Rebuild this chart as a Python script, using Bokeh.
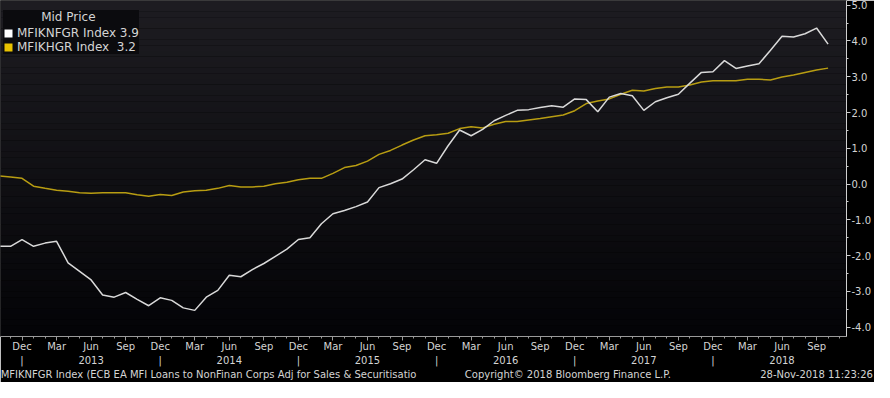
from bokeh.plotting import figure
from bokeh.models import (FixedTicker, LinearAxis, Legend, LegendItem,
                          Range1d, PrintfTickFormatter)
from bokeh.embed import file_html
from bokeh.resources import INLINE
import numpy as np

# ---- data (monthly, Oct 2012 .. Oct 2018) ----
start_year, start_month = 2012, 10
mfiknfgr = [
    -1.74, -1.74, -1.55,
    -1.74, -1.65, -1.60, -2.20, -2.44, -2.68, -3.10, -3.16, -3.03, -3.22, -3.40, -3.18,
    -3.25, -3.46, -3.53, -3.16, -2.97, -2.55, -2.59, -2.39, -2.22, -2.02, -1.82, -1.55,
    -1.50, -1.11, -0.83, -0.74, -0.63, -0.50, -0.10, 0.01, 0.14, 0.40, 0.68, 0.58,
    1.07, 1.51, 1.35, 1.53, 1.77, 1.92, 2.06, 2.08, 2.14, 2.19, 2.15, 2.38,
    2.36, 2.02, 2.43, 2.53, 2.47, 2.06, 2.30, 2.41, 2.51, 2.82, 3.12, 3.14,
    3.45, 3.23, 3.30, 3.36, 3.74, 4.13, 4.11, 4.20, 4.36, 3.91,
]
mfikhgr = [
    0.23, 0.20, 0.16,
    -0.06, -0.12, -0.17, -0.20, -0.24, -0.26, -0.24, -0.24, -0.24, -0.30, -0.34, -0.29,
    -0.32, -0.22, -0.19, -0.17, -0.12, -0.04, -0.08, -0.08, -0.06, 0.01, 0.05, 0.12,
    0.16, 0.16, 0.30, 0.46, 0.52, 0.64, 0.83, 0.94, 1.09, 1.23, 1.35, 1.38,
    1.42, 1.55, 1.60, 1.57, 1.67, 1.75, 1.75, 1.79, 1.83, 1.88, 1.93, 2.05,
    2.25, 2.32, 2.38, 2.51, 2.62, 2.60, 2.67, 2.71, 2.71, 2.77, 2.85, 2.89,
    2.89, 2.89, 2.93, 2.93, 2.91, 2.99, 3.05, 3.12, 3.19, 3.24,
]
legend_labels = ["MFIKNFGR Index 3.9", "MFIKHGR Index  3.2"]
legend_title = "Mid Price"
y_ticks = [-4, -3, -2, -1, 0, 1, 2, 3, 4, 5]
footer_texts = ["MFIKNFGR Index (ECB EA MFI Loans to NonFinan Corps Adj for Sales & Securitisatio",
                "Copyright\u00a9 2018 Bloomberg Finance L.P.",
                "28-Nov-2018 11:23:26"]
month_names = ["Jan", "Feb", "Mar", "Apr", "May", "Jun", "Jul", "Aug", "Sep", "Oct", "Nov", "Dec"]

FONT = "DejaVu Sans"
TXT = "#d4d4d4"

n_total = 75
xs = list(range(len(mfiknfgr)))

def month_of(i):
    return (start_month - 1 + i) % 12 + 1

def year_of(i):
    return start_year + (start_month - 1 + i) // 12

x_start, x_end = 0.13, 73.6
y_start, y_end = -4.26, 5.13

p = figure(width=874, height=382, output_backend="svg", toolbar_location=None,
           x_range=Range1d(x_start, x_end), y_range=Range1d(y_start, y_end),
           min_border_left=0, min_border_top=0, min_border_right=0, min_border_bottom=0,
           background_fill_color="#000000", border_fill_color="#000000",
           outline_line_color="#444444", outline_line_width=1)
p.xaxis.visible = False
p.yaxis.visible = False
p.xgrid.visible = False
p.ygrid.visible = False

# background gradient bands
nb = 60
edges = np.linspace(y_start, y_end, nb + 1)
c_bot = np.array([4, 4, 7])
c_top = np.array([30, 29, 34])
cols = []
for k in range(nb):
    t = (k + 0.5) / nb
    c = (c_bot + (c_top - c_bot) * t).astype(int)
    cols.append("#%02x%02x%02x" % tuple(c))
p.quad(left=x_start - 1, right=x_end + 1, bottom=edges[:-1], top=edges[1:],
       fill_color=cols, line_color=None)

# series
p.line(xs, mfikhgr, line_color="#b89d12", line_width=1.5)
p.line(xs, mfiknfgr, line_color="#d9d9d9", line_width=1.5)

# legend swatches: zero-area quads (invisible on the chart, filled squares in the legend)
lx = xs[-1]
sq1 = p.quad(left=[lx], right=[lx], bottom=[mfiknfgr[-1]], top=[mfiknfgr[-1]],
             fill_color="#ffffff", line_color=None)
sq2 = p.quad(left=[lx], right=[lx], bottom=[mfikhgr[-1]], top=[mfikhgr[-1]],
             fill_color="#e8c200", line_color=None)
legend = Legend(items=[LegendItem(label=legend_labels[0], renderers=[sq1]),
                       LegendItem(label=legend_labels[1], renderers=[sq2])],
                location=(3, 282), title="\u00a0" * 10 + legend_title,
                title_text_font=FONT, title_text_font_size="12px", title_text_color=TXT,
                title_text_font_style="normal", title_standoff=2,
                label_text_font=FONT, label_text_font_size="12px", label_text_color=TXT,
                background_fill_color="#0b0b0e", background_fill_alpha=1.0,
                border_line_color=None, glyph_width=10, glyph_height=10,
                label_height=12, label_standoff=4, spacing=0, padding=7, margin=0)
p.add_layout(legend, "center")

# right y axis
yax = LinearAxis(ticker=FixedTicker(ticks=y_ticks, minor_ticks=[v / 2 for v in range(-8, 11)]),
                 formatter=PrintfTickFormatter(format="%.1f"),
                 axis_line_color="#cfcfcf", major_tick_line_color="#cfcfcf",
                 minor_tick_line_color="#cfcfcf", major_tick_out=4, major_tick_in=0,
                 minor_tick_out=2, minor_tick_in=0, major_label_standoff=1,
                 axis_label_standoff=0,
                 major_label_text_font=FONT, major_label_text_font_size="10px",
                 major_label_text_color=TXT)
p.add_layout(yax, "right")

# bottom month axis
all_idx = list(range(n_total))
q_idx = [i for i in all_idx if month_of(i) in (12, 3, 6, 9)]
xax = LinearAxis(ticker=FixedTicker(ticks=q_idx, minor_ticks=all_idx),
                 major_label_overrides={i: month_names[month_of(i) - 1] for i in q_idx},
                 axis_line_color="#9a9a9a", major_tick_line_color="#9a9a9a",
                 minor_tick_line_color="#9a9a9a", major_tick_out=4, major_tick_in=0,
                 minor_tick_out=2, minor_tick_in=0, major_label_standoff=0,
                 axis_label_standoff=0,
                 major_label_text_font=FONT, major_label_text_font_size="10px",
                 major_label_text_color=TXT)
p.add_layout(xax, "below")

# year row axis
yr_idx = [i for i in all_idx if month_of(i) in (12, 6)]
yr_labels = {}
for i in yr_idx:
    yr_labels[i] = "|" if month_of(i) == 12 else str(year_of(i))
xax2 = LinearAxis(ticker=FixedTicker(ticks=yr_idx, minor_ticks=[]),
                  major_label_overrides=yr_labels,
                  axis_line_color=None, major_tick_line_color=None, minor_tick_line_color=None,
                  major_tick_out=0, minor_tick_out=0,
                  major_label_standoff=0, axis_label_standoff=0,
                  major_label_text_font=FONT, major_label_text_font_size="10px",
                  major_label_text_color=TXT)
p.add_layout(xax2, "below")

# footer row axis (text centred at chosen positions along the bottom)
foot_pos = [18.2, 49.4, 71.0]
xax3 = LinearAxis(ticker=FixedTicker(ticks=foot_pos, minor_ticks=[]),
                  major_label_overrides={foot_pos[k]: footer_texts[k] for k in range(3)},
                  axis_line_color=None, major_tick_line_color=None, minor_tick_line_color=None,
                  major_tick_out=0, minor_tick_out=0,
                  major_label_standoff=0, axis_label_standoff=0,
                  major_label_text_font=FONT, major_label_text_font_size="10px",
                  major_label_text_color=TXT)
p.add_layout(xax3, "below")

open("out.html", "w").write(file_html(p, INLINE))
